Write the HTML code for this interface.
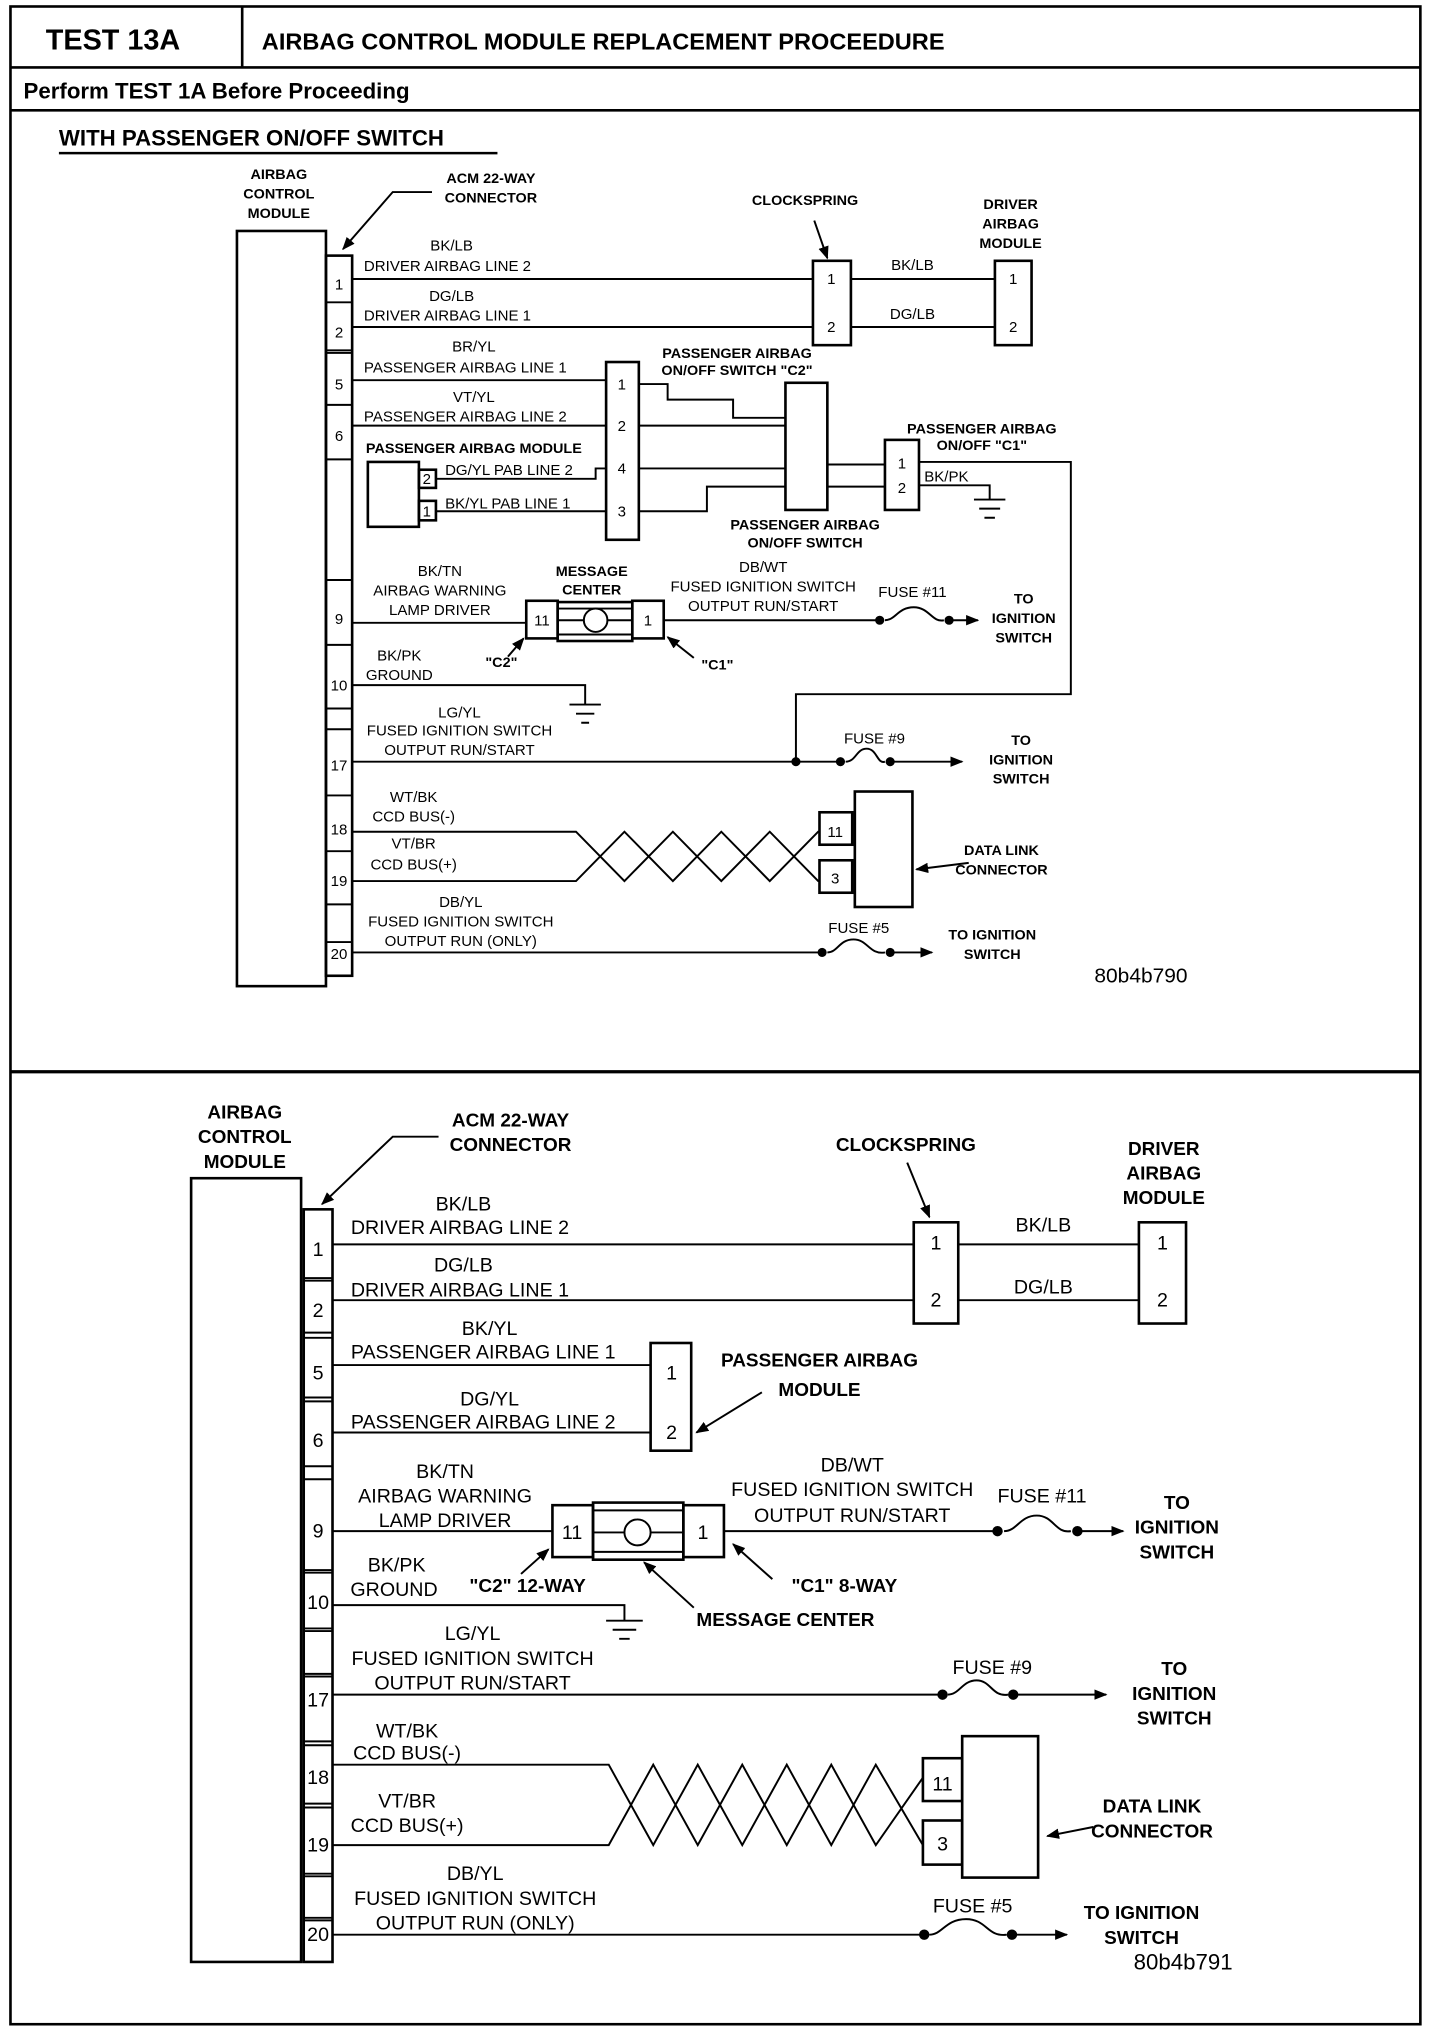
<!DOCTYPE html>
<html><head><meta charset="utf-8"><style>
html,body{margin:0;padding:0;background:#fff}
svg{display:block}
text{font-family:"Liberation Sans",sans-serif;fill:#000}
.s{font-size:11.5px}
.sb{font-size:11px;font-weight:bold}
.m{font-size:15px}
.mb{font-size:14.5px;font-weight:bold}
</style></head><body>
<svg width="1440" height="2032" viewBox="0 0 1100 1566" preserveAspectRatio="none" xmlns="http://www.w3.org/2000/svg">
<defs><marker id="a" markerWidth="10" markerHeight="8" refX="9" refY="4" orient="auto" markerUnits="userSpaceOnUse"><path d="M0,0 L10,4 L0,8 Z" fill="#000"/></marker></defs>
<g fill="none" stroke="#000" stroke-width="2">
<rect x="8" y="5" width="1077" height="1555"/>
<line x1="185" y1="5" x2="185" y2="52"/>
<line x1="8" y1="52" x2="1085" y2="52"/>
<line x1="8" y1="85" x2="1085" y2="85"/>
<line x1="8" y1="826" x2="1085" y2="826" stroke-width="2.5"/>
<line x1="45" y1="118" x2="380" y2="118"/>
</g>
<text x="35" y="38" style="font-size:22px;font-weight:bold">TEST 13A</text>
<text x="200" y="38" style="font-size:18px;font-weight:bold">AIRBAG CONTROL MODULE REPLACEMENT PROCEEDURE</text>
<text x="18" y="76" style="font-size:17px;font-weight:bold">Perform TEST 1A Before Proceeding</text>
<text x="45" y="112" style="font-size:17px;font-weight:bold">WITH PASSENGER ON/OFF SWITCH</text>

<g fill="none" stroke="#000" stroke-width="1.5">
<rect x="181" y="178" width="68" height="582" stroke-width="2"/>
<rect x="249" y="197" width="20" height="555" stroke-width="2"/>
<path d="M249 233H269M249 270H269M249 272H269M249 312H269M249 354H269M249 447H269M249 497H269M249 546H269M249 562H269M249 613H269M249 656H269M249 697H269M249 726H269"/>
<path d="M330 148H300L262 192" marker-end="url(#a)"/>
<path d="M269 215H621M269 252H621M650 215H760M650 252H760"/>
<rect x="621" y="201" width="29" height="65" stroke-width="2"/>
<rect x="760" y="201" width="28" height="65" stroke-width="2"/>
<path d="M622 170L632 199" marker-end="url(#a)"/>
<path d="M269 293H463M269 328H463"/>
<rect x="463" y="279" width="25" height="137" stroke-width="2"/>
<rect x="281" y="356" width="39" height="50" stroke-width="2"/>
<rect x="320" y="362" width="13" height="14" stroke-width="2"/>
<rect x="320" y="386" width="13" height="15" stroke-width="2"/>
<path d="M333 369H455V361H463M333 394H463"/>
<path d="M488 296H510V308H560V322H600M488 328H600M488 361H600M488 394H540V375H600"/>
<rect x="600" y="295" width="32" height="98" stroke-width="2"/>
<path d="M632 358H676M632 375H676"/>
<rect x="676" y="339" width="26" height="54" stroke-width="2"/>
<path d="M702 356H818V535H608V587"/>
<path d="M702 374H756V385M744 385H768M748 392H764M752 399H760"/>
<path d="M269 480H402"/>
<rect x="402" y="463" width="24" height="29" stroke-width="2"/>
<rect x="426" y="464" width="57" height="30" stroke-width="2"/>
<path d="M426 469H483M426 489H483M426 478H483"/>
<circle cx="455" cy="478" r="9" fill="#fff"/>
<rect x="483" y="463" width="24" height="29" stroke-width="2"/>
<path d="M507 478H672M725 478H747" marker-end="url(#a)"/>
<path d="M676 478C684 478 686 468 698 468S712 480 721 478"/>
<path d="M388 506L400 492" marker-end="url(#a)"/>
<path d="M530 507L510 491" marker-end="url(#a)"/>
<path d="M269 528H447V543M435 543H459M440 550H454M444 557H450"/>
<path d="M269 587H642M680 587H735" marker-end="url(#a)"/>
<path d="M646 587C654 587 654 577 662 577S670 589 676 587"/>
<path d="M269 641H440L477 679L514 641L551 679L588 641L625 679H626M269 679H440L477 641L514 679L551 641L588 679L625 641H626"/>
<rect x="626" y="626" width="25" height="25" stroke-width="2"/>
<rect x="626" y="663" width="25" height="25" stroke-width="2"/>
<rect x="653" y="610" width="44" height="89" stroke-width="2"/>
<path d="M740 665L700 670" marker-end="url(#a)"/>
<path d="M269 734H628M680 734H712" marker-end="url(#a)"/>
<path d="M632 734C640 734 641 724 652 724S664 736 676 734"/>
</g>
<g fill="#000">
<circle cx="608" cy="587" r="3.5"/><circle cx="672" cy="478" r="3.5"/><circle cx="725" cy="478" r="3.5"/>
<circle cx="642" cy="587" r="3.5"/><circle cx="680" cy="587" r="3.5"/>
<circle cx="628" cy="734" r="3.5"/><circle cx="680" cy="734" r="3.5"/>
</g>
<g class="sb" text-anchor="middle">
<text x="213" y="138">AIRBAG</text><text x="213" y="153">CONTROL</text><text x="213" y="168">MODULE</text>
<text x="375" y="141">ACM 22-WAY</text><text x="375" y="156">CONNECTOR</text>
<text x="615" y="158">CLOCKSPRING</text>
<text x="772" y="161">DRIVER</text><text x="772" y="176">AIRBAG</text><text x="772" y="191">MODULE</text>
<text x="563" y="276">PASSENGER AIRBAG</text><text x="563" y="289">ON/OFF  SWITCH "C2"</text>
<text x="615" y="408">PASSENGER AIRBAG</text><text x="615" y="422">ON/OFF SWITCH</text>
<text x="750" y="334">PASSENGER AIRBAG</text><text x="750" y="347">ON/OFF  "C1"</text>
<text x="362" y="349">PASSENGER AIRBAG MODULE</text>
<text x="452" y="444">MESSAGE</text><text x="452" y="458">CENTER</text>
<text x="383" y="514">"C2"</text><text x="548" y="516">"C1"</text>
<text x="782" y="465">TO</text><text x="782" y="480">IGNITION</text><text x="782" y="495">SWITCH</text>
<text x="780" y="574">TO</text><text x="780" y="589">IGNITION</text><text x="780" y="604">SWITCH</text>
<text x="765" y="659">DATA LINK</text><text x="765" y="674">CONNECTOR</text>
<text x="758" y="724">TO IGNITION</text><text x="758" y="739">SWITCH</text>
</g>
<g class="s" text-anchor="middle">
<text x="259" y="223">1</text><text x="259" y="260">2</text><text x="259" y="300">5</text><text x="259" y="340">6</text>
<text x="259" y="481">9</text><text x="259" y="532">10</text><text x="259" y="594">17</text><text x="259" y="643">18</text>
<text x="259" y="683">19</text><text x="259" y="739">20</text>
<text x="635" y="219">1</text><text x="635" y="256">2</text><text x="774" y="219">1</text><text x="774" y="256">2</text>
<text x="475" y="300">1</text><text x="475" y="332">2</text><text x="475" y="365">4</text><text x="475" y="398">3</text>
<text x="326" y="373">2</text><text x="326" y="398">1</text>
<text x="689" y="361">1</text><text x="689" y="380">2</text>
<text x="414" y="482">11</text><text x="495" y="482">1</text>
<text x="638" y="645">11</text><text x="638" y="681">3</text>
<text x="345" y="193">BK/LB</text><text x="345" y="232">DG/LB</text><text x="362" y="271">BR/YL</text><text x="362" y="310">VT/YL</text>
<text x="697" y="208">BK/LB</text><text x="697" y="246">DG/LB</text>
<text x="336" y="444">BK/TN</text><text x="336" y="459">AIRBAG WARNING</text><text x="336" y="474">LAMP DRIVER</text>
<text x="583" y="441">DB/WT</text><text x="583" y="456">FUSED IGNITION SWITCH</text><text x="583" y="471">OUTPUT RUN/START</text>
<text x="697" y="460">FUSE #11</text>
<text x="305" y="509">BK/PK</text><text x="305" y="524">GROUND</text>
<text x="351" y="553">LG/YL</text><text x="351" y="567">FUSED IGNITION SWITCH</text><text x="351" y="582">OUTPUT RUN/START</text>
<text x="668" y="573">FUSE #9</text>
<text x="316" y="618">WT/BK</text><text x="316" y="633">CCD BUS(-)</text><text x="316" y="654">VT/BR</text><text x="316" y="670">CCD BUS(+)</text>
<text x="352" y="699">DB/YL</text><text x="352" y="714">FUSED IGNITION SWITCH</text><text x="352" y="729">OUTPUT RUN (ONLY)</text>
<text x="656" y="719">FUSE #5</text>
</g>
<g class="s">
<text x="278" y="209">DRIVER AIRBAG LINE 2</text><text x="278" y="247">DRIVER AIRBAG LINE 1</text>
<text x="278" y="287">PASSENGER AIRBAG LINE 1</text><text x="278" y="325">PASSENGER AIRBAG LINE 2</text>
<text x="340" y="366">DG/YL PAB LINE 2</text><text x="340" y="392">BK/YL  PAB  LINE 1</text>
<text x="706" y="371">BK/PK</text>
</g>
<text x="836" y="757" style="font-size:16px">80b4b790</text>

<g fill="none" stroke="#000" stroke-width="1.5">
<rect x="146" y="908" width="84" height="604" stroke-width="2"/>
<rect x="232" y="932" width="22" height="580" stroke-width="2"/>
<path d="M232 985H254M232 987H254M232 1027H254M232 1031H254M232 1077H254M232 1080H254M232 1130H254M232 1140H254M232 1210H254M232 1212H254M232 1255H254M232 1257H254M232 1290H254M232 1292H254M232 1342H254M232 1345H254M232 1390H254M232 1393H254M232 1444H254M232 1446H254M232 1478H254M232 1480H254"/>
<path d="M335 876H300L246 928" marker-end="url(#a)"/>
<path d="M254 959H698M254 1002H698M732 959H870M732 1002H870"/>
<rect x="698" y="942" width="34" height="78" stroke-width="2"/>
<rect x="870" y="942" width="36" height="78" stroke-width="2"/>
<path d="M693 896L710 938" marker-end="url(#a)"/>
<path d="M254 1052H497M254 1104H497"/>
<rect x="497" y="1035" width="31" height="83" stroke-width="2"/>
<path d="M582 1073L532 1104" marker-end="url(#a)"/>
<path d="M254 1180H422"/>
<rect x="422" y="1160" width="31" height="40" stroke-width="2"/>
<rect x="453" y="1158" width="69" height="44" stroke-width="2"/>
<path d="M453 1164H522M453 1196H522M453 1181H522"/>
<circle cx="487" cy="1181" r="10" fill="#fff"/>
<rect x="522" y="1160" width="31" height="40" stroke-width="2"/>
<path d="M553 1180H762M823 1180H858" marker-end="url(#a)"/>
<path d="M767 1180C777 1180 779 1168 792 1168S806 1182 818 1180"/>
<path d="M398 1213L419 1194" marker-end="url(#a)"/>
<path d="M590 1217L560 1190" marker-end="url(#a)"/>
<path d="M530 1239L492 1204" marker-end="url(#a)"/>
<path d="M254 1237H477V1249M463 1249H491M468 1256H486M473 1263H481"/>
<path d="M254 1306H720M774 1306H845" marker-end="url(#a)"/>
<path d="M724 1306C733 1306 735 1295 746 1295S758 1308 770 1306"/>
<path d="M254 1360H465L499 1422L533 1360L567 1422L601 1360L635 1422L669 1360L705 1422M254 1422H465L499 1360L533 1422L567 1360L601 1422L635 1360L669 1422L705 1370"/>
<rect x="705" y="1355" width="30" height="33" stroke-width="2"/>
<rect x="705" y="1403" width="30" height="34" stroke-width="2"/>
<rect x="735" y="1338" width="58" height="109" stroke-width="2"/>
<path d="M835 1408L800 1415" marker-end="url(#a)"/>
<path d="M254 1491H706M773 1491H815" marker-end="url(#a)"/>
<path d="M710 1491C720 1491 722 1479 738 1479S754 1493 769 1491"/>
</g>
<g fill="#000">
<circle cx="762" cy="1180" r="4"/><circle cx="823" cy="1180" r="4"/>
<circle cx="720" cy="1306" r="4"/><circle cx="774" cy="1306" r="4"/>
<circle cx="706" cy="1491" r="4"/><circle cx="773" cy="1491" r="4"/>
</g>
<g class="mb" text-anchor="middle">
<text x="187" y="862">AIRBAG</text><text x="187" y="881">CONTROL</text><text x="187" y="900">MODULE</text>
<text x="390" y="868">ACM 22-WAY</text><text x="390" y="887">CONNECTOR</text>
<text x="692" y="887">CLOCKSPRING</text>
<text x="889" y="890">DRIVER</text><text x="889" y="909">AIRBAG</text><text x="889" y="928">MODULE</text>
<text x="626" y="1053">PASSENGER AIRBAG</text><text x="626" y="1076">MODULE</text>
<text x="899" y="1163">TO</text><text x="899" y="1182">IGNITION</text><text x="899" y="1201">SWITCH</text>
<text x="403" y="1227">"C2" 12-WAY</text><text x="645" y="1227">"C1" 8-WAY</text>
<text x="600" y="1253">MESSAGE CENTER</text>
<text x="897" y="1291">TO</text><text x="897" y="1310">IGNITION</text><text x="897" y="1329">SWITCH</text>
<text x="880" y="1397">DATA LINK</text><text x="880" y="1416">CONNECTOR</text>
<text x="872" y="1479">TO IGNITION</text><text x="872" y="1498">SWITCH</text>
</g>
<g class="m" text-anchor="middle">
<text x="243" y="968">1</text><text x="243" y="1015">2</text><text x="243" y="1063">5</text><text x="243" y="1115">6</text>
<text x="243" y="1185">9</text><text x="243" y="1240">10</text><text x="243" y="1315">17</text><text x="243" y="1375">18</text>
<text x="243" y="1427">19</text><text x="243" y="1496">20</text>
<text x="715" y="963">1</text><text x="715" y="1007">2</text><text x="888" y="963">1</text><text x="888" y="1007">2</text>
<text x="513" y="1063">1</text><text x="513" y="1109">2</text>
<text x="437" y="1186">11</text><text x="537" y="1186">1</text>
<text x="720" y="1380">11</text><text x="720" y="1426">3</text>
<text x="354" y="933">BK/LB</text><text x="354" y="980">DG/LB</text><text x="374" y="1029">BK/YL</text><text x="374" y="1083">DG/YL</text>
<text x="797" y="949">BK/LB</text><text x="797" y="997">DG/LB</text>
<text x="340" y="1139">BK/TN</text><text x="340" y="1158">AIRBAG WARNING</text><text x="340" y="1177">LAMP DRIVER</text>
<text x="651" y="1134">DB/WT</text><text x="651" y="1153">FUSED IGNITION SWITCH</text><text x="651" y="1173">OUTPUT RUN/START</text>
<text x="796" y="1158">FUSE #11</text>
<text x="303" y="1211">BK/PK</text><text x="301" y="1230">GROUND</text>
<text x="361" y="1264">LG/YL</text><text x="361" y="1283">FUSED IGNITION SWITCH</text><text x="361" y="1302">OUTPUT RUN/START</text>
<text x="758" y="1290">FUSE #9</text>
<text x="311" y="1339">WT/BK</text><text x="311" y="1356">CCD BUS(-)</text><text x="311" y="1393">VT/BR</text><text x="311" y="1412">CCD BUS(+)</text>
<text x="363" y="1449">DB/YL</text><text x="363" y="1468">FUSED IGNITION SWITCH</text><text x="363" y="1487">OUTPUT RUN (ONLY)</text>
<text x="743" y="1474">FUSE #5</text>
</g>
<g class="m">
<text x="268" y="951">DRIVER AIRBAG LINE 2</text><text x="268" y="999">DRIVER AIRBAG LINE 1</text>
<text x="268" y="1047">PASSENGER AIRBAG LINE 1</text><text x="268" y="1101">PASSENGER AIRBAG LINE 2</text>
</g>
<text x="866" y="1518" style="font-size:17px">80b4b791</text>
</svg>
</body></html>
